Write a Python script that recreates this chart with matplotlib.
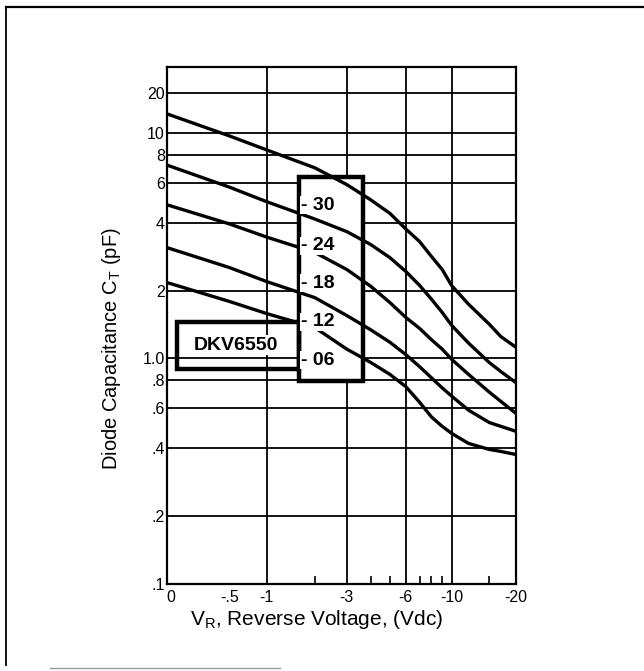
import numpy as np
import matplotlib
matplotlib.use("Agg")
import matplotlib.pyplot as plt
import matplotlib.transforms as mtransforms
from matplotlib.lines import Line2D
from matplotlib.patches import Rectangle

plt.rcParams['font.family'] = ['Liberation Sans', 'DejaVu Sans']

# reverse voltage magnitude (V) and diode capacitance (pF)
v_r = [0, 0.5, 1, 2, 3, 4, 5, 6, 7, 8, 9, 10, 12, 15, 17, 20]
c_30 = [13.9, 9.7, 8.4, 7.0, 5.9, 5.05, 4.4, 3.75, 3.3, 2.83, 2.48, 2.1, 1.74, 1.42, 1.25, 1.12]
c_24 = [7.2, 5.75, 4.95, 4.15, 3.65, 3.2, 2.8, 2.43, 2.11, 1.83, 1.6, 1.4, 1.17, 0.96, 0.875, 0.78]
c_18 = [4.8, 3.95, 3.45, 2.95, 2.48, 2.09, 1.77, 1.52, 1.36, 1.21, 1.1, 0.99, 0.85, 0.71, 0.645, 0.57]
c_12 = [3.1, 2.53, 2.19, 1.86, 1.55, 1.34, 1.18, 1.04, 0.92, 0.82, 0.74, 0.68, 0.59, 0.52, 0.5, 0.475]
c_06 = [2.17, 1.79, 1.58, 1.37, 1.1, 0.96, 0.85, 0.75, 0.64, 0.55, 0.50, 0.465, 0.42, 0.395, 0.387, 0.375]
curves = [c_30, c_24, c_18, c_12, c_06]
curve_labels = ["30", "24", "18", "12", "06"]

x_ticks = [0, 0.5, 1, 3, 6, 10, 20]
x_tick_labels = ["0", "-.5", "-1", "-3", "-6", "-10", "-20"]
x_minor = [0.5, 2, 4, 5, 7, 8, 9, 15]
x_grid = [1, 3, 6, 10]
y_ticks = [0.1, 0.2, 0.4, 0.6, 0.8, 1, 2, 4, 6, 8, 10, 20]
y_tick_labels = [".1", ".2", ".4", ".6", ".8", "1.0", "2", "4", "6", "8", "10", "20"]

# x axis: log of (V + offset); y axis: log, squeezed above 10 pF
OFFSET = 0.55
SQUEEZE = 0.59


def fx(v):
    return np.log10(np.asarray(v, dtype=float) + OFFSET)


def fx_inv(u):
    return 10 ** np.asarray(u, dtype=float) - OFFSET


def fy(c):
    lc = np.log10(np.clip(np.asarray(c, dtype=float), 1e-9, None))
    return np.where(lc > 1, 1 + SQUEEZE * (lc - 1), lc)


def fy_inv(u):
    u = np.asarray(u, dtype=float)
    return np.where(u > 1, 10 ** (1 + (u - 1) / SQUEEZE), 10 ** u)


fig = plt.figure(figsize=(6.44, 6.71), dpi=100)
ax = fig.add_axes([0.2593, 0.1297, 0.542, 0.7705])
ax.set_xscale('function', functions=(fx, fx_inv))
ax.set_yscale('function', functions=(fy, fy_inv))
ax.set_xlim(0, 20)
ax.set_ylim(0.1, 31.3)

for c in y_ticks:
    ax.axhline(c, color='black', lw=1.3, zorder=1)
for v in x_grid:
    ax.axvline(v, color='black', lw=1.3, zorder=1)

for vals in curves:
    ax.plot(v_r, vals, color='black', lw=2.4, solid_joinstyle='round', zorder=3)

ax.set_xticks(x_ticks)
ax.set_xticklabels(x_tick_labels)
ax.set_xticks(x_minor, minor=True)
ax.set_yticks(y_ticks)
ax.set_yticklabels(y_tick_labels)
ax.yaxis.set_minor_locator(matplotlib.ticker.NullLocator())
ax.tick_params(axis='x', which='major', length=0, pad=4, labelsize=11.5)
ax.tick_params(axis='x', which='minor', direction='in', length=6, width=1.2)
ax.tick_params(axis='y', which='both', length=0, pad=1.5, labelsize=11.5)
for s in ax.spines.values():
    s.set_linewidth(1.6)

# nudge the "0" label right, off the ".1" label
zero_lab = ax.get_xticklabels()[0]
zero_lab.set_transform(zero_lab.get_transform() +
                       mtransforms.ScaledTranslation(4 / 100, 0, fig.dpi_scale_trans))

ax.set_xlabel("V$_\\mathregular{R}$, Reverse Voltage, (Vdc)", fontsize=15)
ax.xaxis.set_label_coords(0.43, -0.046, transform=ax.transAxes)
ax.xaxis.label.set_va('top')
ax.set_ylabel("Diode Capacitance C$_\\mathregular{T}$ (pF)", fontsize=14.5)
ax.yaxis.set_label_coords(-0.126, 0.456, transform=ax.transAxes)

# device name box and suffix box
tr = ax.transAxes
ax.add_patch(Rectangle((0.028, 0.416), 0.35, 0.091, transform=tr, fill=False,
                       lw=3.2, ec='black', zorder=4))
ax.add_patch(Rectangle((0.378, 0.393), 0.184, 0.394, transform=tr, fc='white',
                       lw=3.2, ec='black', zorder=2))
ax.text(0.198, 0.462, "DKV6550", transform=tr, ha='center', va='center',
        fontsize=14, fontweight='bold', zorder=5,
        bbox=dict(fc='white', ec='none', pad=1))
label_y = [0.733, 0.654, 0.582, 0.507, 0.433]
for lab, yy in zip(curve_labels, label_y):
    ax.text(0.384, yy, "- " + lab, transform=tr, ha='left', va='center',
            fontsize=14, fontweight='bold', zorder=5,
            bbox=dict(fc='white', ec='none', pad=0.5))

# outer page frame
fig.add_artist(Line2D([6 / 644, 1], [1 - 7 / 671, 1 - 7 / 671], color='black', lw=1.6))
fig.add_artist(Line2D([6 / 644, 6 / 644], [1 - 7 / 671, 6 / 671], color='black', lw=1.3))
fig.add_artist(Line2D([50 / 644, 280 / 644], [3 / 671, 3 / 671], color='0.6', lw=1))

fig.savefig("out.png", dpi=100)
